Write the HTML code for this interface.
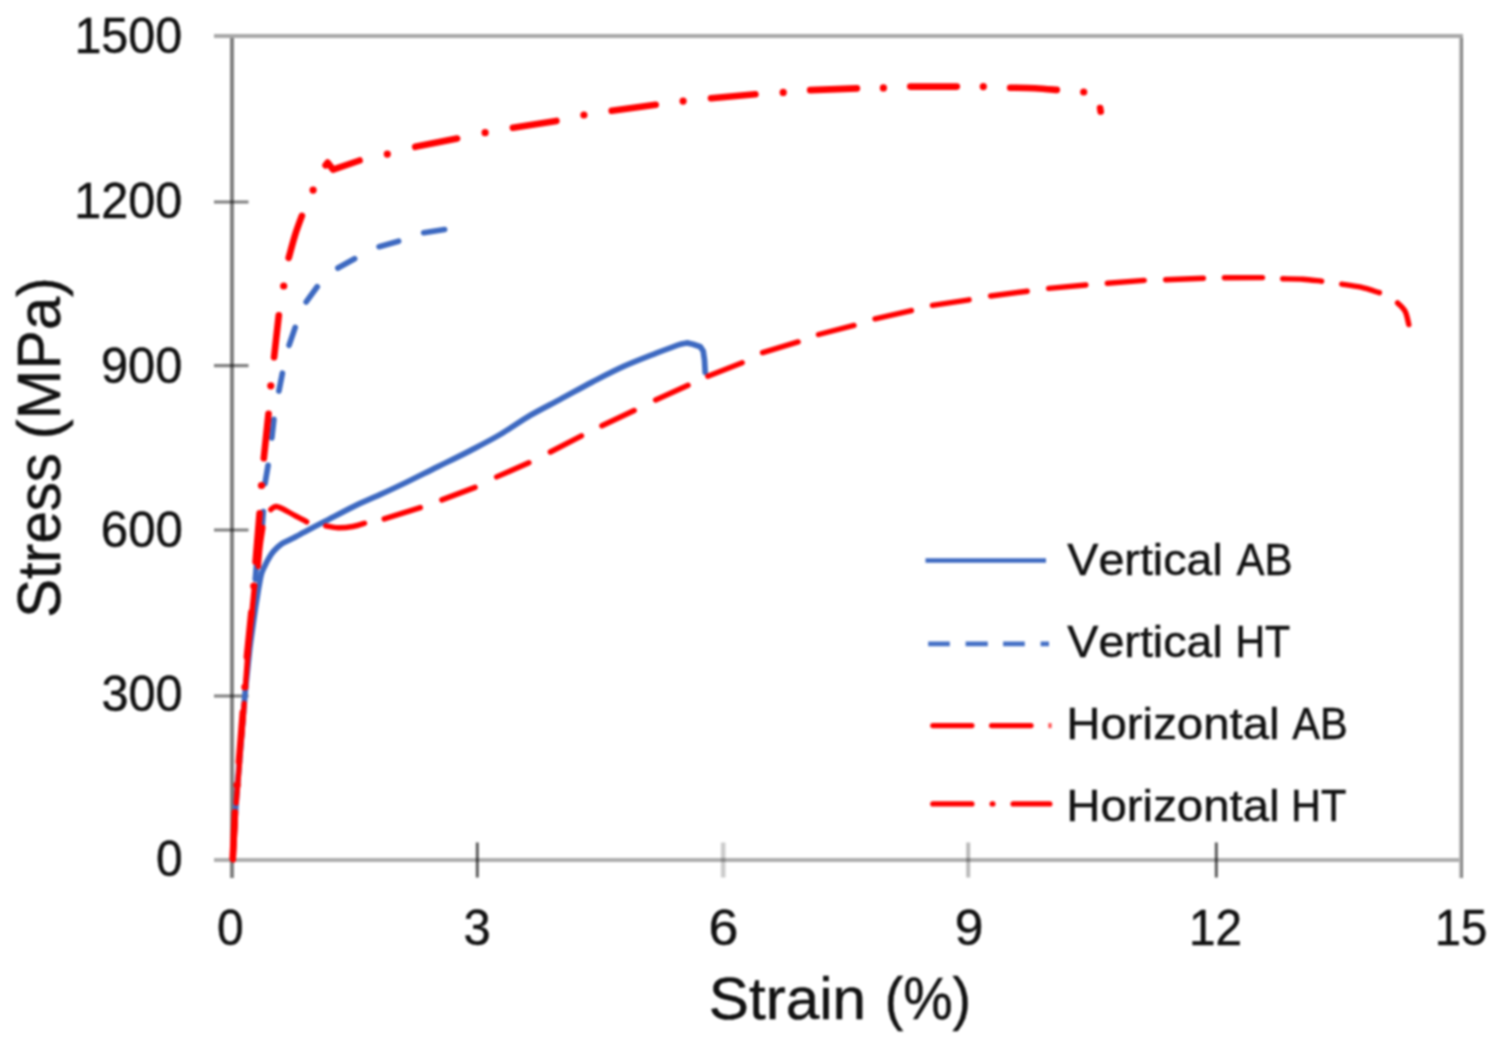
<!DOCTYPE html>
<html lang="en"><head><meta charset="utf-8"><title>Stress–strain curves</title>
<style>html,body{margin:0;padding:0;background:#fff}body{width:1495px;height:1042px;overflow:hidden}svg{display:block}text{font-family:"Liberation Sans",sans-serif;fill:#111;stroke:#111;stroke-width:0.45px;font-kerning:none}</style></head><body>
<svg width="1495" height="1042" viewBox="0 0 1495 1042">
<defs><filter id="soft" x="0" y="0" width="1495" height="1042" filterUnits="userSpaceOnUse" color-interpolation-filters="sRGB"><feGaussianBlur stdDeviation="0.85"/></filter></defs>
<g filter="url(#soft)">
<rect width="1495" height="1042" fill="#fff"/>
<g fill="none" stroke="#000" stroke-linecap="butt">
<path d="M214,36H1463" stroke-width="4" stroke-opacity="0.34"/>
<path d="M1460,38V878" stroke-width="2" stroke-opacity="0.28"/>
<path d="M1462,38V878" stroke-width="2" stroke-opacity="0.52"/>
<path d="M214,860H1459" stroke-width="3.8" stroke-opacity="0.32"/>
<path d="M232,38V878" stroke-width="4" stroke-opacity="0.5"/>
<path d="M214,202.0H248.5M214,365.7H248.5M214,530.0H248.5M214,696.0H248.5" stroke-width="3.2" stroke-opacity="0.5"/>
<path d="M477.3,842.5V877.5M1216.3,842.5V877.5" stroke-width="3" stroke-opacity="0.64"/>
<path d="M723.2,842.5V877.5" stroke-width="4.6" stroke-opacity="0.2"/>
<path d="M968.2,842.5V877.5" stroke-width="4" stroke-opacity="0.27"/>
</g>
<g fill="none" stroke-linecap="round" stroke-linejoin="round">
<path d="M233.0,855.0C233.5,847.0 234.4,827.0 235.8,807.0C237.2,787.0 240.2,753.4 241.7,735.0C243.2,716.6 243.9,707.0 244.8,696.5C245.7,686.0 246.5,679.8 247.3,672.0C248.1,664.2 248.8,657.0 249.6,650.0C250.4,643.0 251.3,637.0 252.3,630.0C253.3,623.0 254.6,613.5 255.4,608.0C256.2,602.5 256.6,600.7 257.2,597.0C257.8,593.3 258.3,589.8 259.0,586.0C259.7,582.2 260.5,577.2 261.4,574.0C262.3,570.8 263.1,569.5 264.3,567.0C265.5,564.5 266.8,561.6 268.4,559.0C269.9,556.4 271.3,553.8 273.6,551.3C275.9,548.8 278.8,545.9 282.0,543.7C285.2,541.5 289.8,539.8 292.8,538.3C295.8,536.8 296.6,536.2 300.0,534.4C303.4,532.6 308.7,529.9 313.0,527.6C317.3,525.3 319.2,524.3 326.0,520.8C332.8,517.3 344.5,511.0 353.5,506.6C362.5,502.2 371.1,498.8 380.0,494.7C388.9,490.6 397.3,486.7 407.0,482.0C416.7,477.3 427.4,471.8 438.0,466.6C448.6,461.4 459.9,456.0 470.3,450.6C480.7,445.2 490.4,440.3 500.4,434.4C510.4,428.5 520.5,421.1 530.4,415.3C540.3,409.5 549.7,405.0 560.0,399.5C570.3,394.0 581.4,387.7 592.1,382.1C602.8,376.6 613.5,371.0 624.2,366.2C634.9,361.4 647.4,356.7 656.3,353.2C665.2,349.7 672.6,346.8 677.7,345.1C682.8,343.4 685.5,343.3 687.0,342.9L693,344.2L700.4,346.8L703.2,351L704.5,360L705.2,372.3" stroke="#3d69c1" stroke-width="5.7"/>
<path d="M255.3,579.4L257.1,558.6M261.9,530.4L263.3,511.6M265.0,483.6L268.1,465.3M271.8,437.9L273.9,419.4M278.9,391.0L282.4,373.2M289.1,345.2L295.2,327.4M306.2,301.9L317.2,286.8M337.9,268.1L354.6,258.7M379.1,246.7L398.6,241.2M423.7,232.7L444.6,229.5" stroke="#3d69c1" stroke-width="5.7"/>
<path d="M233.2,860.0L235.2,821.5M236.2,803.0L239.6,761.5M241.3,739.5L244.2,703.5M245.4,686.5L248.5,644.5M251.0,621.5L254.5,585.5M258.3,566.5C258.6,562.9 259.5,551.5 260.3,545.0C261.1,538.5 262.5,530.4 262.9,527.5M270.8,509.6C271.3,509.2 272.5,507.9 273.5,507.4C274.5,506.9 275.4,506.3 277.0,506.6C278.6,506.9 280.0,507.5 283.0,509.0C286.0,510.5 291.0,513.5 295.0,515.6C299.0,517.7 304.8,520.7 306.7,521.8M325.8,525.9C327.9,526.2 333.5,527.7 338.0,527.8C342.5,527.9 348.5,527.3 352.9,526.5C357.3,525.7 362.6,523.8 364.5,523.2M384.2,518.9L420.3,507.6M441.8,499.9L475.1,487.4M496.6,476.9L528.9,462.7M550.3,452.0L581.5,435.8M601.9,425.8L634.2,410.5M655.6,400.0L688.1,385.3M707.8,376.3L742.2,362.7M762.6,352.6L798.1,341.9M818.5,334.5L854.0,325.4M875.0,318.8L911.4,310.6M932.4,305.4L969.1,299.8M990.6,296.0L1027.2,291.2M1048.6,288.4L1085.9,285.0M1107.3,283.2L1144.3,280.4M1165.7,279.7L1203.4,278.2M1224.4,277.8L1262.5,277.6M1282.7,278.8C1286.1,278.9 1296.4,278.8 1302.9,279.2C1309.4,279.6 1318.5,280.9 1321.7,281.2M1341.7,284.1C1344.9,284.6 1354.6,285.8 1360.9,287.2C1367.2,288.6 1376.3,291.8 1379.4,292.7M1397.6,302.9C1398.8,304.3 1403.3,307.8 1405.2,311.4C1407.1,315.0 1408.2,322.4 1408.8,324.6" stroke="#ff0000" stroke-width="5.4"/>
<path d="M232.7,858.3L235.0,812.2M238.9,761.8L242.9,712.2M246.9,656.8L251.4,612.2M255.6,561.8L259.6,513.2M263.8,458.3L268.5,413.8M274.1,357.2L278.8,315.2M288.7,257.8C289.8,254.0 292.9,241.9 295.1,234.9C297.3,227.9 300.7,219.0 301.9,215.8M415.2,146.8L457.1,138.5M512.9,127.7L556.4,120.9M611.7,110.8L655.7,104.8M711.0,98.2L755.4,94.2M810.2,90.1L856.9,88.4M910.3,86.6L956.8,86.6M1010.2,87.7C1014.4,87.8 1027.2,87.8 1035.0,88.2C1042.8,88.6 1053.1,89.6 1056.8,89.9M325.6,165.3L327.6,162.6L333,169.6L359.6,160.5M1100.1,108L1100.7,111.6" stroke="#ff0000" stroke-width="6.6"/>
</g>
<g fill="#ff0000"><circle cx="237.1" cy="785.0" r="3.6"/><circle cx="244.9" cy="687.0" r="3.6"/><circle cx="253.8" cy="586.0" r="3.6"/><circle cx="261.5" cy="485.5" r="3.6"/><circle cx="270.8" cy="385.8" r="3.6"/><circle cx="283.7" cy="286.0" r="3.6"/><circle cx="313.1" cy="190.1" r="3.6"/><circle cx="387.3" cy="154.1" r="3.6"/><circle cx="485.1" cy="132.7" r="3.6"/><circle cx="583.9" cy="115.0" r="3.6"/><circle cx="683.1" cy="101.1" r="3.6"/><circle cx="783.2" cy="92.4" r="3.6"/><circle cx="883.4" cy="87.9" r="3.6"/><circle cx="983.3" cy="86.6" r="3.6"/><circle cx="1083.7" cy="92.0" r="3.6"/></g>
<g fill="none" stroke-linecap="butt">
<path d="M925.5,560.5H1046" stroke="#3d69c1" stroke-width="4.6"/>
<path d="M928.2,643.9H949.8M965.6,643.9H987.8M1003.1,643.9H1024.8M1040.6,643.9H1049" stroke="#4570c6" stroke-width="4.7"/>
</g><g fill="none" stroke-linecap="round">
<path d="M932.8,725.6H971.9M991.6,725.6H1031" stroke="#ff0000" stroke-width="5.3"/>
<path d="M1048.4,725.6H1051.6" stroke="#ff0000" stroke-width="5" stroke-linecap="butt" stroke-opacity="0.7"/>
<path d="M932.8,803.9H971.9M992.2,803.9H992.9M1013.1,803.9H1049.8" stroke="#ff0000" stroke-width="5.3"/>
</g>
<text y="575.0" font-size="44.6"><tspan x="1067.29" textLength="155.63" lengthAdjust="spacingAndGlyphs">Vertical</tspan><tspan x="1224.83" textLength="67.78" lengthAdjust="spacingAndGlyphs"> AB</tspan></text>
<text y="656.5" font-size="44.6"><tspan x="1067.29" textLength="155.63" lengthAdjust="spacingAndGlyphs">Vertical</tspan><tspan x="1224.00" textLength="66.24" lengthAdjust="spacingAndGlyphs"> HT</tspan></text>
<text y="738.5" font-size="44.6"><tspan x="1066.21" textLength="213.46" lengthAdjust="spacingAndGlyphs">Horizontal</tspan><tspan x="1280.69" textLength="66.90" lengthAdjust="spacingAndGlyphs"> AB</tspan></text>
<text y="821.0" font-size="44.6"><tspan x="1066.21" textLength="213.46" lengthAdjust="spacingAndGlyphs">Horizontal</tspan><tspan x="1279.45" textLength="66.90" lengthAdjust="spacingAndGlyphs"> HT</tspan></text>
<text y="945" font-size="49.6"><tspan x="217.03" textLength="26.64" lengthAdjust="spacingAndGlyphs">0</tspan></text>
<text y="945" font-size="49.6"><tspan x="463.54" textLength="27.21" lengthAdjust="spacingAndGlyphs">3</tspan></text>
<text y="945" font-size="49.6"><tspan x="708.57" textLength="29.89" lengthAdjust="spacingAndGlyphs">6</tspan></text>
<text y="945" font-size="49.6"><tspan x="954.78" textLength="28.66" lengthAdjust="spacingAndGlyphs">9</tspan></text>
<text y="945" font-size="49.6"><tspan x="1188.97" textLength="53.03" lengthAdjust="spacingAndGlyphs">12</tspan></text>
<text y="945" font-size="49.6"><tspan x="1434.80" textLength="52.59" lengthAdjust="spacingAndGlyphs">15</tspan></text>
<text y="52.8" font-size="49.6"><tspan x="74.41" textLength="107.78" lengthAdjust="spacingAndGlyphs">1500</tspan></text>
<text y="217.9" font-size="49.6"><tspan x="74.20" textLength="108.10" lengthAdjust="spacingAndGlyphs">1200</tspan></text>
<text y="382.6" font-size="49.6"><tspan x="100.91" textLength="81.39" lengthAdjust="spacingAndGlyphs">900</tspan></text>
<text y="546.8" font-size="49.6"><tspan x="100.80" textLength="82.12" lengthAdjust="spacingAndGlyphs">600</tspan></text>
<text y="711.1" font-size="49.6"><tspan x="101.45" textLength="81.15" lengthAdjust="spacingAndGlyphs">300</tspan></text>
<text y="876.1" font-size="49.6"><tspan x="155.93" textLength="26.64" lengthAdjust="spacingAndGlyphs">0</tspan></text>
<text y="1019" font-size="60"><tspan x="708.76" textLength="157.35" lengthAdjust="spacingAndGlyphs">Strain</tspan><tspan x="869.22" textLength="101.82" lengthAdjust="spacingAndGlyphs"> (%)</tspan></text>
<text transform="translate(60.3,615.5) rotate(-90)" y="0" font-size="61.4"><tspan x="-2.23" textLength="164.43" lengthAdjust="spacingAndGlyphs">Stress</tspan><tspan x="159.65" textLength="178.74" lengthAdjust="spacingAndGlyphs"> (MPa)</tspan></text>
</g></svg></body></html>
